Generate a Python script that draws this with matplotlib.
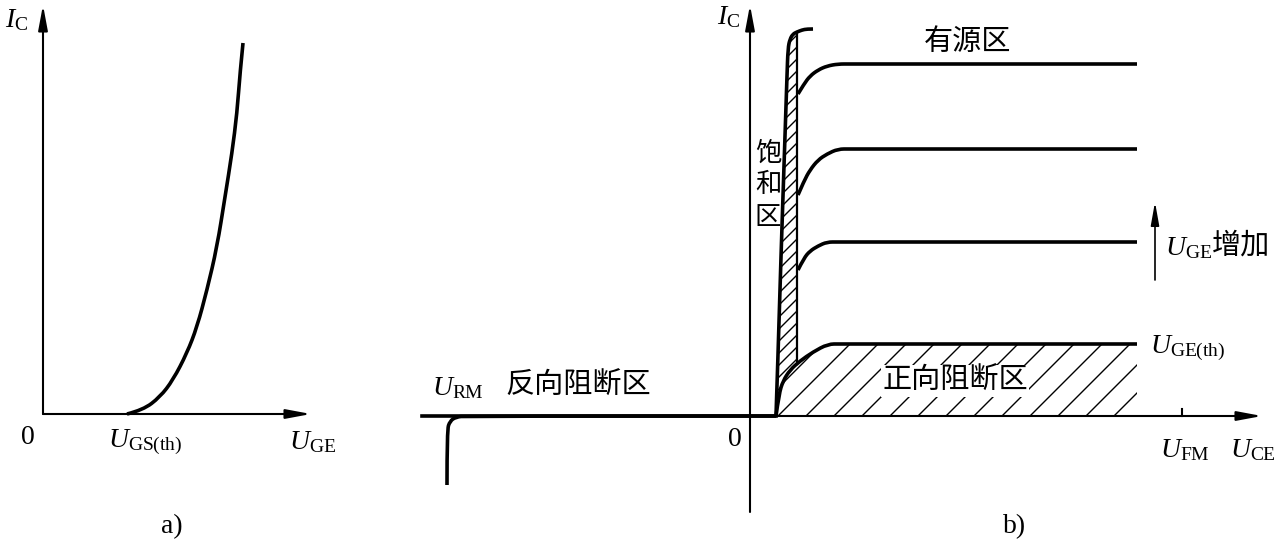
import numpy as np
import matplotlib
matplotlib.use("Agg")
import matplotlib.pyplot as plt
from matplotlib.patches import Polygon, PathPatch
from matplotlib.path import Path

plt.rcParams['mathtext.fontset'] = 'custom'
plt.rcParams['mathtext.rm'] = 'Liberation Serif'
plt.rcParams['mathtext.it'] = 'Liberation Serif:italic'
plt.rcParams['font.family'] = ['Liberation Serif', 'DejaVu Sans']

CJK = ['Noto Sans CJK SC', 'DejaVu Sans']

# ---------------- data ----------------
# panel a: transfer characteristic
a_uge = [84, 100, 117, 130, 144, 154, 164, 174, 182, 189, 194, 197, 200]
a_ic = [0, 4, 17, 34, 61, 87, 124, 167, 217, 261, 301, 341, 371]

# panel b: output characteristics
sat_uce = [26, 28, 31, 34, 36, 37, 38, 40, 43, 47, 52, 57, 63]
sat_ic = [0, 60, 160, 250, 310, 340, 368, 377, 382, 384, 386, 387, 387]

curve_uce = {
    'top': [48, 54, 60, 68, 77, 88, 100, 387],
    'second': [48, 54, 60, 68, 77, 88, 100, 387],
    'third': [48, 54, 60, 68, 77, 88, 387],
    'bottom': [26, 29, 33, 40, 50, 63, 78, 90, 387],
}
curve_ic = {
    'top': [322, 332, 340, 346, 350, 352, 352, 352],
    'second': [221, 235, 246, 256, 262, 267, 267, 267],
    'third': [146, 158, 165, 170, 174, 174, 174],
    'bottom': [0, 22, 35, 46, 55, 64, 72, 72, 72],
}
rev_uce = [26, -284, -294, -300, -303, -303]
rev_ic = [0, 0, -1, -5, -14, -69]
rev_axis_uce = [-328, 26]

W, H = 1277, 545
fig = plt.figure(figsize=(W / 100, H / 100), dpi=100)

LW_CURVE = 2.6
LW_AXIS = 1.5
FS = 20
ARROW = dict(arrowstyle='-|>,head_length=1.5,head_width=0.28', lw=LW_AXIS,
             color='black', shrinkA=0, shrinkB=0, mutation_scale=10)


def smooth_curve(ax, xs, ys, lw=LW_CURVE, zorder=3):
    """Draw the read points as a smooth quadratic B-spline path."""
    pts = list(zip(xs, ys))
    verts = [pts[0]]
    codes = [Path.MOVETO]
    n = len(pts)
    if n == 2:
        verts.append(pts[1])
        codes.append(Path.LINETO)
    else:
        for i in range(1, n - 1):
            p, q = pts[i], pts[i + 1]
            end = q if i == n - 2 else ((p[0] + q[0]) / 2, (p[1] + q[1]) / 2)
            verts += [p, end]
            codes += [Path.CURVE3, Path.CURVE3]
    patch = PathPatch(Path(verts, codes), facecolor='none', edgecolor='black',
                      lw=lw, zorder=zorder, capstyle='butt', joinstyle='round')
    ax.add_patch(patch)


# ---------------- panel a ----------------
ox_a, oy_a = 43, 414
axa = fig.add_axes([0, 0, 350 / W, 1])
axa.set_xlim(-ox_a, 350 - ox_a)
axa.set_ylim(-(H - oy_a), oy_a)
axa.axis('off')
axa.annotate('', xy=(0, 409), xytext=(0, 0), arrowprops=ARROW)
axa.annotate('', xy=(268, 0), xytext=(0, 0), arrowprops=ARROW)
smooth_curve(axa, a_uge, a_ic)
axa.text(-26, 394, r'$I_{\mathrm{C}}$', fontsize=FS, ha='center', va='center')
axa.text(-15, -23, '0', fontsize=FS, ha='center', va='center')
axa.text(102, -28, r'$U_{\mathrm{GS(th)}}$', fontsize=FS, ha='center', va='center')
axa.text(269, -28, r'$U_{\mathrm{GE}}$', fontsize=FS, ha='center', va='center')
axa.text(129, -113, 'a)', fontsize=FS, ha='center', va='center')

# ---------------- panel b ----------------
ox_b, oy_b = 750, 416
axb = fig.add_axes([350 / W, 0, (W - 350) / W, 1])
axb.set_xlim(350 - ox_b, W - ox_b)
axb.set_ylim(-(H - oy_b), oy_b)
axb.axis('off')


def hatch(ax, xy, spacing, offset, lw):
    poly = Polygon(xy, closed=True, facecolor='none', edgecolor='none')
    ax.add_patch(poly)
    xs = [p[0] for p in xy]
    ys = [p[1] for p in xy]
    ymin, ymax = min(ys), max(ys)
    cs = np.arange(offset - spacing * np.ceil((offset - (min(xs) - ymax)) / spacing),
                   max(xs) - ymin + spacing, spacing)
    for c in cs:
        ln, = ax.plot([c + ymin, c + ymax], [ymin, ymax], color='black', lw=lw, zorder=1)
        ln.set_clip_path(poly)


x_right = 47  # right edge of saturation hatch
top_idx = [i for i, x in enumerate(sat_uce) if x <= x_right]
sat_poly = [(sat_uce[i], sat_ic[i]) for i in top_idx]
sat_poly.append((x_right, sat_ic[top_idx[-1]]))
bx, by = curve_uce['bottom'], curve_ic['bottom']
y_at_right = float(np.interp(x_right, bx, by))
sat_poly.append((x_right, y_at_right))
for x, y in reversed(list(zip(bx, by))):
    if x < x_right:
        sat_poly.append((x, y))
hatch(axb, sat_poly, 12, 26, 1.0)

fb_poly = list(zip(bx, by)) + [(bx[-1], 0)]
hatch(axb, fb_poly, 28, 28, 1.0)

axb.plot([x_right, x_right], [y_at_right, sat_ic[top_idx[-1]]], color='black', lw=1.6, zorder=2)

# axes
axb.annotate('', xy=(0, 411), xytext=(0, -96), arrowprops=ARROW)
axb.annotate('', xy=(512, 0), xytext=(-328, 0), arrowprops=ARROW)
axb.plot([432, 432], [0, 7], color='black', lw=LW_AXIS)

# curves
smooth_curve(axb, sat_uce, sat_ic)
for k in curve_uce:
    smooth_curve(axb, curve_uce[k], curve_ic[k])
smooth_curve(axb, rev_uce, rev_ic)
axb.plot(rev_axis_uce, [0, 0], color='black', lw=LW_CURVE, zorder=3)

# texts
axb.text(-21, 399, r'$I_{\mathrm{C}}$', fontsize=FS, ha='center', va='center')
axb.text(218, 374, '有源区', fontsize=21, ha='center', va='center', family=CJK)
for ch, yy in zip('饱和区', [263, 232, 199]):
    axb.text(18, yy, ch, fontsize=19, ha='center', va='center', family=CJK)
axb.annotate('', xy=(405, 214), xytext=(405, 136),
             arrowprops=dict(arrowstyle='-|>,head_length=1.4,head_width=0.25', lw=1.2,
                             color='black', shrinkA=0, shrinkB=0, mutation_scale=10))
axb.text(415, 168, r'$U_{\mathrm{GE}}$', fontsize=FS, ha='left', va='center')
axb.text(462, 170, '增加', fontsize=21, ha='left', va='center', family=CJK)
axb.text(400, 68, r'$U_{\mathrm{GE(th)}}$', fontsize=FS, ha='left', va='center')
axb.text(205, 35, '正向阻断区', fontsize=21, ha='center', va='center', family=CJK,
         bbox=dict(facecolor='white', edgecolor='none', pad=1), zorder=4)
axb.text(-318, 28, r'$U_{\mathrm{RM}}$', fontsize=FS, ha='left', va='center')
axb.text(-245, 30, '反向阻断区', fontsize=21, ha='left', va='center', family=CJK)
axb.text(-15, -24, '0', fontsize=FS, ha='center', va='center')
axb.text(435, -34, r'$U_{\mathrm{FM}}$', fontsize=FS, ha='center', va='center')
axb.text(503, -34, r'$U_{\mathrm{CE}}$', fontsize=FS, ha='center', va='center')
axb.text(265, -111, 'b)', fontsize=FS, ha='center', va='center')

fig.savefig('out.png', dpi=100)
